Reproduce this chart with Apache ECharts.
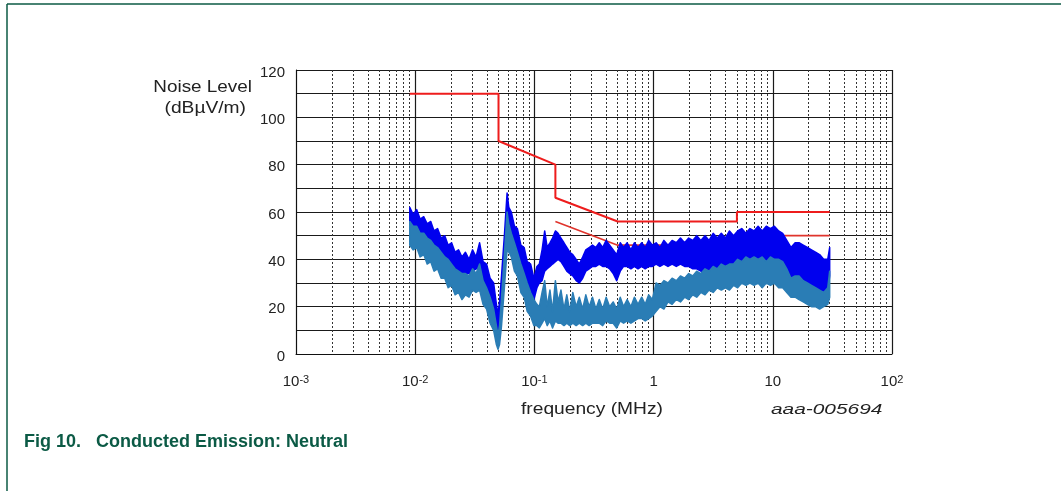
<!DOCTYPE html>
<html>
<head>
<meta charset="utf-8">
<script src="https://cdn.jsdelivr.net/npm/echarts@6/dist/echarts.min.js"></script>
<style>
html,body{margin:0;padding:0;background:#fff;}
#main{width:1061px;height:491px;}
</style>
</head>
<body>
<div id="main"></div>
<script>
// frequency points (MHz) of the measured traces
var freqMHz = [
    0.0090, 0.0096, 0.0103, 0.0110, 0.0118, 0.0126, 0.0135, 0.0144, 0.0154, 0.0165,
    0.0177, 0.0189, 0.0202, 0.0216, 0.0231, 0.0247, 0.0264, 0.0283, 0.0303, 0.0324,
    0.0347, 0.0371, 0.0397, 0.0425, 0.0455, 0.0480, 0.0495, 0.0510, 0.0530, 0.0560,
    0.0590, 0.0610, 0.0640, 0.0680, 0.0720, 0.0770, 0.0820, 0.0870, 0.0930, 0.0990,
    0.105, 0.110, 0.116, 0.122, 0.128, 0.135, 0.142, 0.150, 0.158, 0.167,
    0.177, 0.187, 0.198, 0.210, 0.224, 0.238, 0.254, 0.270, 0.288, 0.307,
    0.328, 0.350, 0.374, 0.400, 0.428, 0.458, 0.490, 0.525, 0.560, 0.600,
    0.645, 0.690, 0.740, 0.795, 0.850, 0.910, 0.975,
    1.05, 1.13, 1.22, 1.32, 1.43, 1.55, 1.68, 1.82, 1.97, 2.13,
    2.30, 2.49, 2.70, 2.92, 3.16, 3.42, 3.70, 4.00, 4.33, 4.69,
    5.07, 5.49, 5.94, 6.43, 6.96, 7.53, 8.15, 8.82, 9.55, 10.3,
    11.2, 12.1, 13.1, 14.2, 15.4, 16.6, 18.0, 19.5, 21.1, 22.8,
    24.7, 26.7, 28.9, 30.0
];
// peak detector trace (dark blue): upper and lower edge of the noise band
var peakHigh = [
    62, 59, 61, 57, 58, 55, 56, 52, 53, 49, 50, 46, 47, 43, 44, 41, 43, 40, 44, 41,
    47, 39, 38, 32, 30, 21, 17, 22, 33, 50, 68, 62, 60, 54, 53, 46, 45, 39, 38, 32,
    37, 38, 44, 52, 45, 47, 49, 52, 51, 49, 47, 45, 43, 42, 40, 38, 41, 44, 45, 46,
    45, 47, 45, 48, 46, 44, 42, 47, 45, 47, 44, 47, 45, 47, 45, 48, 46,
    47, 45, 48, 46, 48, 47, 49, 47, 49, 48, 50, 48, 50, 48, 51, 49, 51, 49, 52, 50,
    52, 53, 51, 53, 52, 54, 52, 54, 53, 54, 52, 51, 48, 45, 47, 47, 46, 45, 44, 43,
    42, 40, 40, 45
];
var peakLow = [
    52, 51, 50, 49, 47, 46, 45, 43, 42, 40, 39, 37, 36, 34, 33, 33, 34, 34, 35, 36,
    36, 32, 28, 24, 19, 12, 8, 10, 18, 35, 52, 52, 48, 44, 41, 36, 33, 29, 26, 23,
    28, 30, 31, 35, 36, 37, 38, 39, 40, 39, 37, 35, 34, 33, 31, 30, 32, 35, 36, 37,
    37, 38, 37, 37, 36, 34, 31, 35, 37, 37, 36, 37, 36, 37, 36, 37, 37,
    38, 37, 38, 37, 38, 37, 38, 37, 37, 36, 36, 35, 34, 33, 35, 34, 36, 35, 36, 36,
    38, 37, 39, 38, 39, 38, 39, 37, 39, 38, 38, 37, 34, 30, 31, 31, 29, 28, 27, 26,
    25, 24, 26, 33
];
// average detector trace (steel blue): upper and lower edge of the noise band
var avgHigh = [
    56, 54, 54, 51, 51, 49, 48, 46, 45, 43, 41, 40, 38, 36, 35, 34, 34, 33, 36, 34,
    38, 31, 28, 24, 19, 12, 8, 12, 24, 42, 60, 55, 51, 47, 43, 38, 34, 30, 26, 23,
    21, 20, 26, 31, 20, 27, 18, 31, 22, 27, 19, 25, 18, 26, 20, 24, 19, 25, 20, 24,
    19, 23, 19, 24, 20, 22, 19, 24, 20, 23, 20, 24, 21, 24, 21, 25, 23,
    30, 29, 31, 30, 32, 31, 33, 32, 34, 33, 35, 34, 36, 35, 37, 36, 38, 37, 38, 38,
    40, 39, 41, 40, 41, 40, 41, 39, 41, 40, 40, 39, 36, 32, 33, 33, 31, 30, 29, 28,
    27, 26, 28, 35
];
var avgLow = [
    46, 44, 45, 41, 42, 38, 39, 35, 36, 32, 32, 28, 29, 25, 26, 23, 25, 24, 27, 26,
    27, 21, 19, 13, 10, 4, 2, 4, 12, 28, 44, 43, 41, 35, 33, 26, 24, 18, 16, 12,
    12, 11, 13, 15, 12, 14, 11, 14, 13, 13, 12, 13, 12, 13, 12, 13, 12, 13, 12, 13,
    13, 13, 12, 14, 13, 13, 11, 14, 13, 14, 13, 14, 15, 15, 14, 15, 16,
    18, 20, 19, 22, 21, 23, 22, 24, 23, 25, 24, 26, 25, 27, 26, 28, 27, 28, 27, 29,
    28, 30, 29, 30, 29, 30, 28, 30, 29, 30, 28, 28, 26, 24, 24, 23, 22, 21, 20, 20,
    19, 20, 21, 24
];
// limit lines
var qpLimitFreq = [0.009, 0.05, 0.05, 0.15, 0.15, 0.5, 5, 5, 30];
var qpLimitLevel = [110, 110, 90, 80, 66, 56, 56, 60, 60];
var avLimitFreq = [0.15, 0.5, 5, 5, 30];
var avLimitLevel = [56, 46, 46, 50, 50];
// axis tick labels (by decade exponent -3..2)
var xTickLabels = ['10{sup|-3}', '10{sup|-2}', '10{sup|-1}', '1', '10', '10{sup|2}'];
var yLabelStep = 20;

function pairs(xs, ys) {
    return xs.map(function (x, i) { return [x, ys[i]]; });
}

// noise band drawn as one polygon: upper edge forward, lower edge back
function bandSeries(name, highs, lows, color, z) {
    return {
        name: name,
        type: 'custom',
        z: z,
        data: freqMHz.map(function (f, i) { return [f, highs[i], lows[i]]; }),
        encode: { x: 0, y: [1, 2] },
        renderItem: function (params, api) {
            if (params.dataIndex !== 0) return null;
            var pts = [];
            for (var i = 0; i < freqMHz.length; i++) {
                pts.push(api.coord([freqMHz[i], highs[i]]));
            }
            for (var j = freqMHz.length - 1; j >= 0; j--) {
                pts.push(api.coord([freqMHz[j], lows[j]]));
            }
            return {
                type: 'polygon',
                shape: { points: pts },
                style: { fill: color, stroke: color, lineWidth: 1.5, lineJoin: 'round' }
            };
        }
    };
}

var FONT = 'Liberation Sans, Arial, sans-serif';
var myChart = echarts.init(document.getElementById('main'));
var option = {
    animation: false,
    backgroundColor: '#fff',
    grid: { left: 296, right: 169, top: 70, bottom: 137 },
    xAxis: {
        type: 'log',
        logBase: 10,
        min: 0.001,
        max: 100,
        axisLine: { show: true, onZero: false, lineStyle: { color: '#111', width: 1 } },
        axisTick: { show: false },
        minorTick: { show: false, splitNumber: 9 },
        splitLine: { show: true, lineStyle: { color: '#1a1a1a', width: 1.2 } },
        minorSplitLine: { show: true, lineStyle: { color: '#333', width: 1, type: [2, 2] } },
        axisLabel: {
            margin: 20,
            fontFamily: FONT,
            fontSize: 15,
            color: '#222',
            formatter: function (v) {
                var e = Math.round(Math.log(v) / Math.LN10);
                return xTickLabels[e + 3];
            },
            rich: {
                sup: { fontSize: 11, verticalAlign: 'top', lineHeight: 12, color: '#222', fontFamily: FONT }
            }
        }
    },
    yAxis: {
        type: 'value',
        min: 0,
        max: 120,
        interval: 10,
        axisLine: { show: true, lineStyle: { color: '#111', width: 1 } },
        axisTick: { show: false },
        splitLine: { show: true, lineStyle: { color: '#1a1a1a', width: 1.2 } },
        axisLabel: {
            margin: 11,
            fontFamily: FONT,
            fontSize: 15,
            color: '#222',
            formatter: function (v) {
                return v % yLabelStep === 0 ? '{v|' + v + '}' : '';
            },
            rich: {
                v: { fontSize: 15, fontFamily: FONT, color: '#222', padding: [5, 0, 0, 0] }
            }
        }
    },
    graphic: [
        { type: 'line', shape: { x1: 7, y1: 4, x2: 7, y2: 491 }, style: { stroke: '#0b5a45', lineWidth: 1.5 } },
        { type: 'line', shape: { x1: 7, y1: 4, x2: 1061, y2: 4 }, style: { stroke: '#0b5a45', lineWidth: 1.5 } },
        { type: 'text', x: 252, y: 88, scaleX: 1.18, style: { text: 'Noise Level', font: '16px ' + FONT, fill: '#222', textAlign: 'right', textVerticalAlign: 'middle' } },
        { type: 'text', x: 246, y: 109, scaleX: 1.2, style: { text: '(dBµV/m)', font: '16px ' + FONT, fill: '#222', textAlign: 'right', textVerticalAlign: 'middle' } },
        { type: 'text', x: 521, y: 410, scaleX: 1.2, style: { text: 'frequency (MHz)', font: '16px ' + FONT, fill: '#222', textAlign: 'left', textVerticalAlign: 'middle' } },
        { type: 'text', x: 771, y: 410, scaleX: 1.49, style: { text: 'aaa-005694', font: 'italic 14px ' + FONT, fill: '#222', textAlign: 'left', textVerticalAlign: 'middle' } },
        { type: 'text', left: 24, top: 433, style: { text: 'Fig 10.   Conducted Emission: Neutral', font: 'bold 18px ' + FONT, fill: '#0b5a45' } }
    ],
    series: [
        {
            name: 'AV limit',
            type: 'line',
            data: pairs(avLimitFreq, avLimitLevel),
            symbol: 'none',
            lineStyle: { color: '#e0342c', width: 1.6 },
            z: 2
        },
        bandSeries('Peak', peakHigh, peakLow, '#0000ee', 3),
        bandSeries('Average', avgHigh, avgLow, '#2a7db5', 4),
        {
            name: 'QP limit',
            type: 'line',
            data: pairs(qpLimitFreq, qpLimitLevel),
            symbol: 'none',
            lineStyle: { color: '#ee1c1c', width: 2 },
            z: 5
        }
    ]
};
myChart.setOption(option);
</script>
</body>
</html>
